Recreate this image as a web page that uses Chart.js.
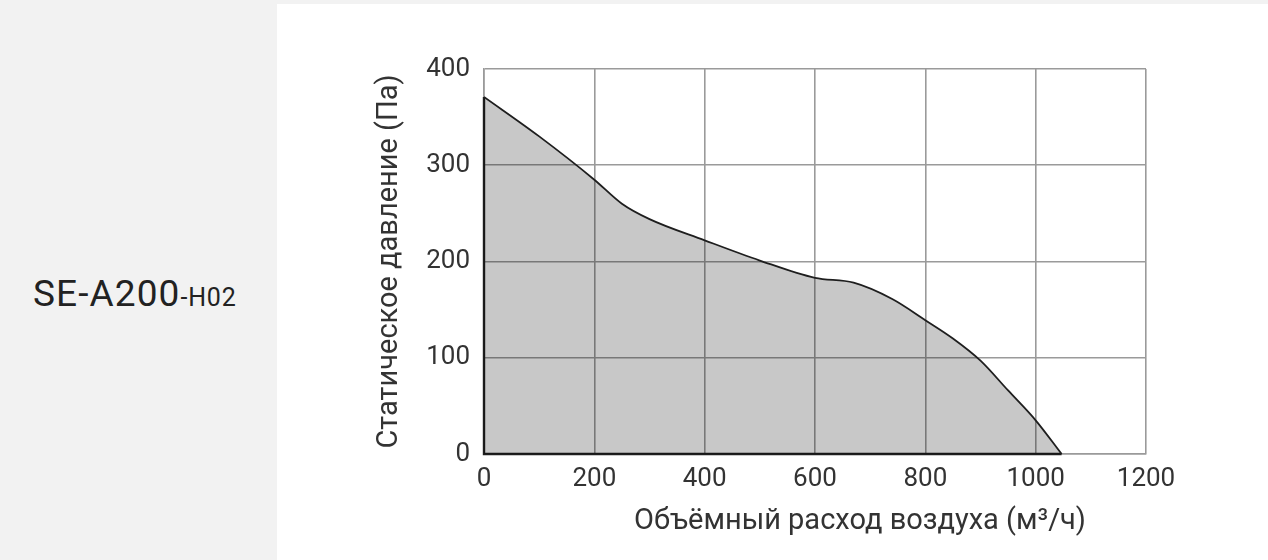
<!DOCTYPE html>
<html>
<head>
<meta charset="utf-8">
<script src="https://cdn.jsdelivr.net/npm/chart.js@4"></script>
<style>
  html, body { margin: 0; padding: 0; background: #fff; }
  body { width: 1268px; height: 560px; position: relative; overflow: hidden; font-family: Roboto, sans-serif; }
  .topline { position: absolute; left: 0; top: 0; width: 1268px; height: 4px; background: #f2f2f2; }
  .side { position: absolute; left: 0; top: 4px; width: 277px; height: 556px; background: #f2f2f2; }
  .model { position: absolute; left: 33px; color: #222; font-size: 37px; letter-spacing: 1.1px; }
  .model small { font-size: 25px; letter-spacing: 0.8px; }
  .wrap { position: absolute; left: 277px; top: 4px; width: 991px; height: 556px; }
</style>
</head>
<body>
<div class="topline"></div>
<div class="side"><div class="model" style="top:268px">SE-A200<small>-H02</small></div></div>
<div class="wrap"><canvas id="fanChart"></canvas></div>
<script>
// air flow (m3/h) and static pressure (Pa)
var flowValues = [0, 100, 200, 250, 300, 400, 500, 600, 670, 740, 800, 850, 900, 950, 1000, 1047];
var pressureValues = [371, 330, 285, 260, 244, 222, 201, 183, 178, 161, 139, 120, 97, 66, 35, 0];
var xTicks = [0, 200, 400, 600, 800, 1000, 1200];
var yTicks = [0, 100, 200, 300, 400];
var xTitle = 'Объёмный расход воздуха (м³/ч)';
var yTitle = 'Статическое давление (Па)';

var points = flowValues.map(function(f, i) { return { x: f, y: pressureValues[i] }; });
var last = flowValues.length - 1;
// outline of the shaded area along the axes
var edgePoints = [
    { x: flowValues[0], y: pressureValues[0] },
    { x: flowValues[0], y: 0 },
    { x: flowValues[last], y: 0 }
];

// x title sits right of the axis centre in the original, so draw it ourselves
var xTitlePlugin = {
    id: 'xTitle',
    afterDraw: function(chart) {
        var c = chart.ctx;
        var area = chart.chartArea;
        c.save();
        c.font = '29px Roboto';
        c.fillStyle = '#333';
        c.textAlign = 'center';
        c.textBaseline = 'middle';
        c.fillText(xTitle, (area.left + area.right) / 2 + 45, area.bottom + 68);
        c.restore();
    }
};

var ctx = document.getElementById('fanChart').getContext('2d');
new Chart(ctx, {
    type: 'line',
    data: {
        datasets: [{
            data: points,
            fill: 'origin',
            backgroundColor: 'rgba(0, 0, 0, 0.215)',
            borderColor: '#1e1e1e',
            borderWidth: 1.8,
            pointRadius: 0,
            cubicInterpolationMode: 'monotone'
        }, {
            data: edgePoints,
            fill: false,
            borderColor: '#1e1e1e',
            borderWidth: 2.4,
            pointRadius: 0,
            tension: 0,
            clip: 4
        }]
    },
    options: {
        responsive: true,
        maintainAspectRatio: false,
        animation: false,
        layout: { padding: { left: 95, top: 65, right: 122, bottom: 20 } },
        plugins: { legend: { display: false }, tooltip: { enabled: false } },
        scales: {
            x: {
                type: 'linear',
                min: xTicks[0],
                max: xTicks[xTicks.length - 1],
                afterBuildTicks: function(axis) { axis.ticks = xTicks.map(function(v) { return { value: v }; }); },
                afterFit: function(axis) { axis.height = 86; },
                grid: { color: '#9a9a9a', lineWidth: 1.6, drawTicks: false },
                border: { color: '#9a9a9a', width: 1.6 },
                ticks: {
                    padding: 10, color: '#333', font: { family: 'Roboto', size: 26 },
                    callback: function(v) { return String(v); }
                },
                title: { display: false }
            },
            y: {
                min: yTicks[0],
                max: yTicks[yTicks.length - 1],
                afterBuildTicks: function(axis) { axis.ticks = yTicks.map(function(v) { return { value: v }; }); },
                afterFit: function(axis) { axis.width = 112; },
                grid: { color: '#9a9a9a', lineWidth: 1.6, drawTicks: false },
                border: { color: '#9a9a9a', width: 1.6 },
                ticks: {
                    padding: 14, color: '#333', font: { family: 'Roboto', size: 26 },
                    callback: function(v) { return String(v); }
                },
                title: {
                    display: true,
                    text: yTitle,
                    color: '#333',
                    font: { family: 'Roboto', size: 29 },
                    padding: { top: 0, bottom: 0 }
                }
            }
        }
    },
    plugins: [xTitlePlugin]
});
</script>
</body>
</html>
